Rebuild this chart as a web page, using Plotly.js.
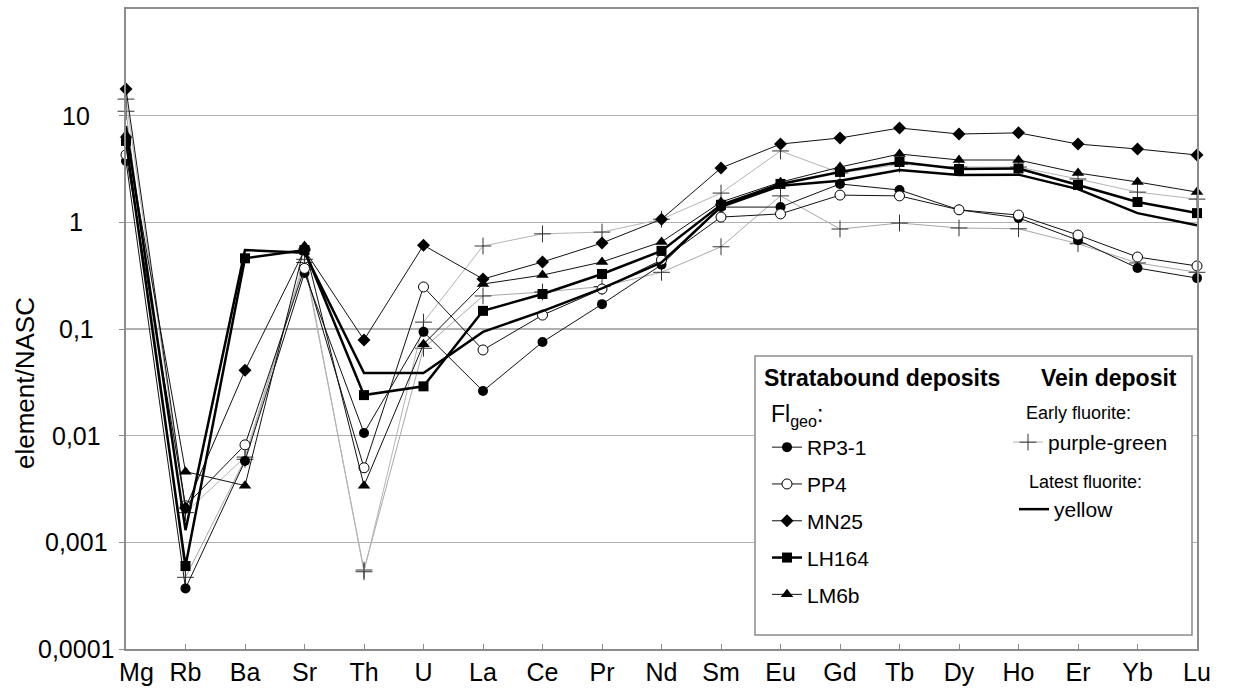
<!DOCTYPE html>
<html>
<head>
<meta charset="utf-8">
<script src="https://cdn.plot.ly/plotly-3.0.1.min.js"></script>
<style>html,body{margin:0;padding:0;background:#fff;}#chart{width:1233px;height:691px;}</style>
</head>
<body>
<div id="chart"></div>
<script>
// Elements (x categories)
const elements = ["Mg","Rb","Ba","Sr","Th","U","La","Ce","Pr","Nd","Sm","Eu","Gd","Tb","Dy","Ho","Er","Yb","Lu"];

// Stratabound deposits (FIgeo)
const rp3_1 = [3.76,0.00037,0.0058,0.335,0.0106,0.094,0.0262,0.0755,0.171,0.40,1.39,1.39,2.29,2.01,1.31,1.10,0.68,0.373,0.30];
const pp4   = [4.3,0.0022,0.0082,0.37,0.0050,0.248,0.0636,0.135,0.237,0.444,1.12,1.20,1.80,1.77,1.31,1.17,0.76,0.473,0.39];
const mn25  = [17.8,0.0021,0.041,0.55,0.079,0.61,0.294,0.425,0.64,1.07,3.23,5.42,6.18,7.66,6.73,6.9,5.42,4.87,4.28];
const lh164 = [5.8,0.0006,0.46,0.55,0.024,0.029,0.148,0.213,0.328,0.54,1.46,2.29,2.97,3.68,3.16,3.2,2.24,1.55,1.22];
const lm6b  = [6.6,0.0046,0.0034,0.60,0.0034,0.072,0.264,0.32,0.425,0.655,1.55,2.38,3.3,4.37,3.84,3.84,2.9,2.39,1.92];

// Vein deposit
const purpleGreenA = [14.3,0.0019,0.0063,0.45,0.00053,0.116,0.60,0.78,0.81,1.07,1.88,4.67,2.9,3.5,3.3,3.3,2.55,1.92,1.65];
const purpleGreenB = [11.0,0.00047,0.0060,0.42,0.00055,0.066,0.204,0.222,0.25,0.34,0.59,1.77,0.866,0.985,0.885,0.87,0.63,0.416,0.34];
const yellow = [8.0,0.0013,0.55,0.52,0.0387,0.0387,0.094,0.147,0.24,0.42,1.40,2.2,2.45,3.1,2.78,2.8,2.05,1.22,0.94];

// y tick labels
const yTickVals = [0.0001,0.001,0.01,0.1,1,10];
const yTickText = ["0,0001","0,001","0,01","0,1","1","10"];

const FONT = "Liberation Sans, Arial, sans-serif";

function series(name, y, opts) {
  return Object.assign({
    type: "scatter", mode: "lines+markers", name: name, x: elements, y: y,
    cliponaxis: false, hoverinfo: "skip"
  }, opts);
}

const crossMarker = {symbol: "cross-thin-open", size: 12, color: "#333", line: {color: "#333", width: 1}};

const traces = [
  series("purple-green", purpleGreenB, {
    legend: "legend2", showlegend: false,
    line: {color: "#a8a8a8", width: 1},
    marker: crossMarker
  }),
  series("purple-green", purpleGreenA, {
    legend: "legend2", legendgroup: "pg",
    line: {color: "#b4b4b4", width: 1},
    marker: crossMarker
  }),
  series("RP3-1", rp3_1, {
    legend: "legend", legendgroup: "g1",
    line: {color: "#111", width: 1},
    marker: {symbol: "circle", size: 10, color: "#000"}
  }),
  series("PP4", pp4, {
    legend: "legend", legendgroup: "g2",
    line: {color: "#111", width: 1},
    marker: {symbol: "circle", size: 10, color: "#fff", line: {color: "#000", width: 1}}
  }),
  series("MN25", mn25, {
    legend: "legend", legendgroup: "g3",
    line: {color: "#111", width: 1},
    marker: {symbol: "diamond", size: 10, color: "#000"}
  }),
  series("LH164", lh164, {
    legend: "legend", legendgroup: "g4",
    line: {color: "#000", width: 2.5},
    marker: {symbol: "square", size: 10, color: "#000"}
  }),
  series("LM6b", lm6b, {
    legend: "legend", legendgroup: "g5",
    line: {color: "#111", width: 1},
    marker: {symbol: "triangle-up", size: 11, color: "#000"}
  }),
  series("yellow", yellow, {
    mode: "lines", legend: "legend3", legendgroup: "ye",
    line: {color: "#000", width: 2.5}
  })
];

function px2x(px) { return (px - 126) / 1071; }
function px2y(py) { return (649 - py) / 640; }

// x tick labels: first label nudged right as in the reference
const xTickText = elements.map((e, i) => i === 0 ? "\u00a0\u00a0\u00a0" + e : e);

const legendCommon = {
  bgcolor: "rgba(0,0,0,0)", borderwidth: 0, xanchor: "left", yanchor: "top",
  orientation: "v", tracegroupgap: 6.5, itemclick: false, itemdoubleclick: false,
  font: {family: FONT, size: 21, color: "#000"}
};

const annotations = [
  {text: "element/NASC", xref: "paper", yref: "paper", x: px2x(25), y: px2y(383),
   textangle: -90, showarrow: false, xanchor: "center", yanchor: "middle",
   font: {family: FONT, size: 26, color: "#000"}},
  {text: "<b>Stratabound deposits</b>", xref: "paper", yref: "paper", x: px2x(762), y: px2y(378),
   showarrow: false, xanchor: "left", yanchor: "middle", font: {family: FONT, size: 23}},
  {text: "<b>Vein deposit</b>", xref: "paper", yref: "paper", x: px2x(1039), y: px2y(378),
   showarrow: false, xanchor: "left", yanchor: "middle", font: {family: FONT, size: 23}},
  {text: "Fl<sub>geo</sub>:", xref: "paper", yref: "paper", x: px2x(769), y: px2y(415),
   showarrow: false, xanchor: "left", yanchor: "middle", font: {family: FONT, size: 23}},
  {text: "Early fluorite:", xref: "paper", yref: "paper", x: px2x(1024), y: px2y(413),
   showarrow: false, xanchor: "left", yanchor: "middle", font: {family: FONT, size: 18}},
  {text: "Latest fluorite:", xref: "paper", yref: "paper", x: px2x(1027), y: px2y(482),
   showarrow: false, xanchor: "left", yanchor: "middle", font: {family: FONT, size: 18}}
];
// y tick labels, centred in the label column as in the reference
yTickVals.forEach((v, i) => {
  annotations.push({text: yTickText[i], xref: "paper", yref: "y", x: px2x(76), y: Math.log10(v),
    showarrow: false, xanchor: "center", yanchor: "middle",
    font: {family: FONT, size: 25, color: "#000"}});
});

const layout = {
  width: 1233, height: 691,
  margin: {l: 126, r: 36, t: 9, b: 42, pad: 0},
  paper_bgcolor: "#fff", plot_bgcolor: "#fff",
  font: {family: FONT, size: 25, color: "#000"},
  xaxis: {
    type: "category", range: [0, elements.length - 1],
    tickmode: "array", tickvals: elements, ticktext: xTickText,
    showline: true, linecolor: "#8c8c8c", linewidth: 2, mirror: true,
    showgrid: false, zeroline: false,
    ticks: "inside", ticklen: 5, tickcolor: "#8c8c8c", tickwidth: 1,
    tickfont: {family: FONT, size: 25, color: "#000"},
    fixedrange: true
  },
  yaxis: {
    type: "log", range: [-4, 2],
    tickvals: yTickVals, ticktext: yTickText, showticklabels: false,
    showline: true, linecolor: "#8c8c8c", linewidth: 2, mirror: true,
    showgrid: true, gridcolor: "#b0b0b0", gridwidth: 1.3, zeroline: false,
    ticks: "outside", ticklen: 5, tickcolor: "#8c8c8c", tickwidth: 1,
    fixedrange: true
  },
  legend: Object.assign({}, legendCommon, {x: px2x(767), y: px2y(427)}),
  legend2: Object.assign({}, legendCommon, {x: px2x(1008), y: px2y(422)}),
  legend3: Object.assign({}, legendCommon, {x: px2x(1014), y: px2y(489)}),
  shapes: [{
    type: "rect", xref: "paper", yref: "paper", layer: "above",
    x0: px2x(755), x1: px2x(1192), y0: px2y(635), y1: px2y(356),
    fillcolor: "#fff", line: {color: "#8c8c8c", width: 1.5}
  }],
  annotations: annotations,
  showlegend: true,
  hovermode: false
};

Plotly.newPlot("chart", traces, layout, {displayModeBar: false, staticPlot: true});
</script>
</body>
</html>
